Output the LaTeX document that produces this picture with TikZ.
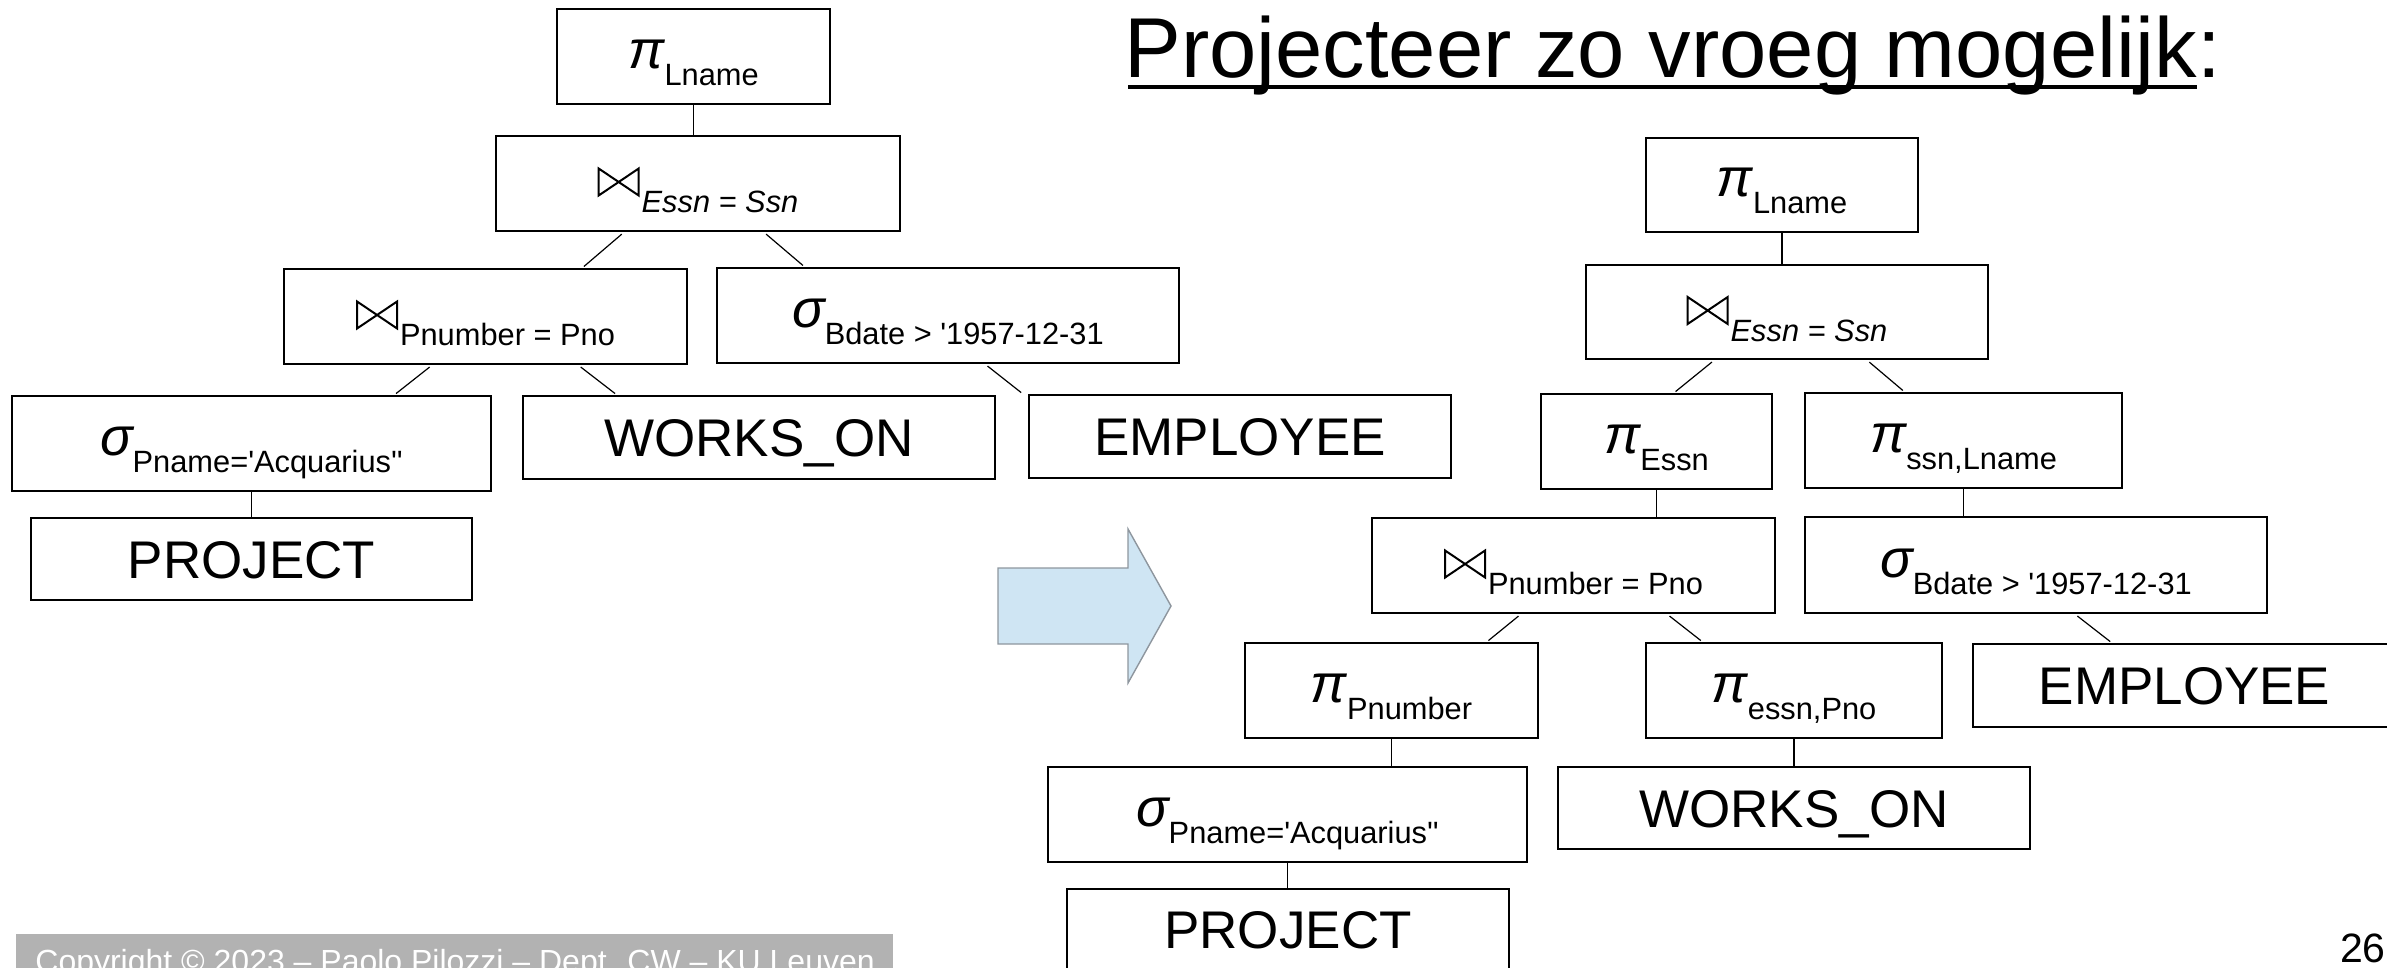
\documentclass[tikz,border=0pt]{standalone}
\usepackage{fontspec}
\setmainfont{Liberation Sans}
\usetikzlibrary{calc}

\definecolor{arrowFill}{HTML}{CFE5F3}
\definecolor{arrowLine}{HTML}{8E969E}
\definecolor{barGray}{HTML}{B2B2B2}

% operator symbol with its lowered subscript
\newcommand\symsize{\fontsize{27}{30}\selectfont}
\newcommand\subsize{\fontsize{15.4}{18}\selectfont}
\newcommand\opsym[2]{{\symsize\itshape #1}\raisebox{-8.5pt}{\subsize #2}}
% natural join sign, drawn as an outlined bow tie
\newcommand\joinsign{\tikz[baseline=0pt]\draw[line width=1pt, line join=miter]
  (0pt,0pt) -- (0pt,13.5pt) -- (20pt,0pt) -- (20pt,13.5pt) -- cycle;}
\newcommand\opjoin[1]{\joinsign\hspace{1pt}\raisebox{-8.5pt}{\subsize #1}}
\newcommand\sq{\textquotesingle}

\begin{document}
\begin{tikzpicture}[x=0.5pt,y=-0.5pt,
  opbox/.style={draw=black, line width=1.2pt, inner sep=0pt, text height=17pt, text depth=5pt},
  relbox/.style={draw=black, line width=1.2pt, inner sep=0pt,
    font=\fontsize{26.5}{30}\selectfont, text height=19pt, text depth=0pt},
  link/.style={line width=0.6pt, shorten <=1.5pt, shorten >=1pt},
  stem/.style={line width=0.6pt}]
\useasboundingbox (0,0) rectangle (2387,968);
\clip (0,0) rectangle (2387,968);

% ---------- original query tree ----------
\node[opbox, minimum width=136.5pt, minimum height=47.5pt] (Lpi)    at (693.5,56.5)  {\opsym{π}{Lname}};
\node[opbox, minimum width=202pt,   minimum height=47.5pt] (Ljoin1) at (698,183.5)  {\opjoin{\itshape Essn = Ssn}};
\node[opbox, minimum width=201.5pt, minimum height=47.5pt] (Ljoin2) at (485.5,316.5) {\opjoin{Pnumber = Pno}};
\node[opbox, minimum width=231pt,   minimum height=47.5pt] (Lsigb)  at (948,315.5)  {\opsym{σ}{Bdate > \sq1957-12-31}};
\node[opbox, minimum width=239.5pt, minimum height=47.5pt] (Lsigp)  at (251.5,443.5) {\opsym{σ}{Pname=\sq Acquarius\sq\sq}};
\node[relbox, minimum width=236pt,  minimum height=41.5pt] (Lworks) at (759,437.5)  {WORKS\_ON};
\node[relbox, minimum width=211pt,  minimum height=41.5pt] (Lemp)   at (1240,436.5) {EMPLOYEE};
\node[relbox, minimum width=220.5pt,minimum height=41pt]   (Lproj)  at (251.5,559)  {PROJECT};

\draw[stem] (Lpi.south) -- (Lpi.south |- Ljoin1.north);
\draw[link] ($(Ljoin1.south west)!0.318!(Ljoin1.south east)$) -- ($(Ljoin2.north west)!0.739!(Ljoin2.north east)$);
\draw[link] ($(Ljoin1.south west)!0.662!(Ljoin1.south east)$) -- ($(Lsigb.north west)!0.191!(Lsigb.north east)$);
\draw[link] ($(Ljoin2.south west)!0.368!(Ljoin2.south east)$) -- ($(Lsigp.north west)!0.797!(Lsigp.north east)$);
\draw[link] ($(Ljoin2.south west)!0.729!(Ljoin2.south east)$) -- ($(Lworks.north west)!0.200!(Lworks.north east)$);
\draw[link] ($(Lsigb.south west)!0.580!(Lsigb.south east)$) -- ($(Lemp.north west)!-0.012!(Lemp.north east)$);
\draw[stem] (Lsigp.south) -- (Lsigp.south |- Lproj.north);

% ---------- transformation arrow ----------
\draw[fill=arrowFill, draw=arrowLine, line width=0.7pt]
  (998,568) -- (1128,568) -- (1128,529) -- (1171,606) -- (1128,683) -- (1128,644) -- (998,644) -- cycle;

% ---------- title ----------
\node[anchor=base west, inner sep=0pt, font=\fontsize{42.5}{48}\selectfont] (title) at (1124,78) {Projecteer zo vroeg mogelijk};
\node[anchor=base west, inner sep=0pt, font=\fontsize{42.5}{48}\selectfont] (colon) at (title.base east) {:};
\draw[line width=2.2pt] ($(title.base west)+(4,9)$) -- ($(title.base east)+(0,9)$);

% ---------- optimised query tree ----------
\node[opbox, minimum width=136pt,   minimum height=47pt]   (Rpi)    at (1782,185)    {\opsym{π}{Lname}};
\node[opbox, minimum width=201pt,   minimum height=47pt]   (Rjoin1) at (1787,312)    {\opjoin{\itshape Essn = Ssn}};
\node[opbox, minimum width=115.5pt, minimum height=47.5pt] (Rpie)   at (1656.5,441.5) {\opsym{π}{Essn}};
\node[opbox, minimum width=158.5pt, minimum height=47.5pt] (Rpis)   at (1963.5,440.5) {\opsym{π}{ssn,Lname}};
\node[opbox, minimum width=201.5pt, minimum height=47.5pt] (Rjoin2) at (1573.5,565.5) {\opjoin{Pnumber = Pno}};
\node[opbox, minimum width=231pt,   minimum height=48pt]   (Rsigb)  at (2036,565)    {\opsym{σ}{Bdate > \sq1957-12-31}};
\node[opbox, minimum width=146.5pt, minimum height=47.5pt] (Rpip)   at (1391.5,690.5) {\opsym{π}{Pnumber}};
\node[opbox, minimum width=148pt,   minimum height=47.5pt] (Rpiw)   at (1794,690.5)  {\opsym{π}{essn,Pno}};
\node[relbox, minimum width=211.5pt,minimum height=41.5pt] (Remp)   at (2184.5,685.5) {EMPLOYEE};
\node[opbox, minimum width=239.5pt, minimum height=47.5pt] (Rsigp)  at (1287.5,814.5) {\opsym{σ}{Pname=\sq Acquarius\sq\sq}};
\node[relbox, minimum width=236pt,  minimum height=41pt]   (Rworks) at (1794,808)    {WORKS\_ON};
\node[relbox, minimum width=221pt,  minimum height=40.5pt] (Rproj)  at (1288,929.5)  {PROJECT};

\draw[stem] (Rpi.south) -- (Rpi.south |- Rjoin1.north);
\draw[link] ($(Rjoin1.south west)!0.320!(Rjoin1.south east)$) -- ($(Rpie.north west)!0.575!(Rpie.north east)$);
\draw[link] ($(Rjoin1.south west)!0.698!(Rjoin1.south east)$) -- ($(Rpis.north west)!0.315!(Rpis.north east)$);
\draw[stem] (Rpie.south) -- (Rpie.south |- Rjoin2.north);
\draw[stem] (Rpis.south) -- (Rpis.south |- Rsigb.north);
\draw[link] ($(Rjoin2.south west)!0.370!(Rjoin2.south east)$) -- ($(Rpip.north west)!0.823!(Rpip.north east)$);
\draw[link] ($(Rjoin2.south west)!0.731!(Rjoin2.south east)$) -- ($(Rpiw.north west)!0.193!(Rpiw.north east)$);
\draw[link] ($(Rsigb.south west)!0.584!(Rsigb.south east)$) -- ($(Remp.north west)!0.329!(Remp.north east)$);
\draw[stem] (Rpip.south) -- (Rpip.south |- Rsigp.north);
\draw[stem] (Rpiw.south) -- (Rpiw.south |- Rworks.north);
\draw[stem] (Rsigp.south) -- (Rsigp.south |- Rproj.north);

% ---------- footer ----------
\fill[barGray] (15.5,934) rectangle (893,980);
\node[anchor=base west, inner sep=0pt, text=white, font=\fontsize{16}{19}\selectfont] (copy) at (35,972)
  {Copyright © 2023 – Paolo Pilozzi – Dept. CW – KU Leuven};
\node[anchor=base east, inner sep=0pt, font=\fontsize{20.5}{24}\selectfont] (page) at (2386,962) {26};
\end{tikzpicture}
\end{document}
